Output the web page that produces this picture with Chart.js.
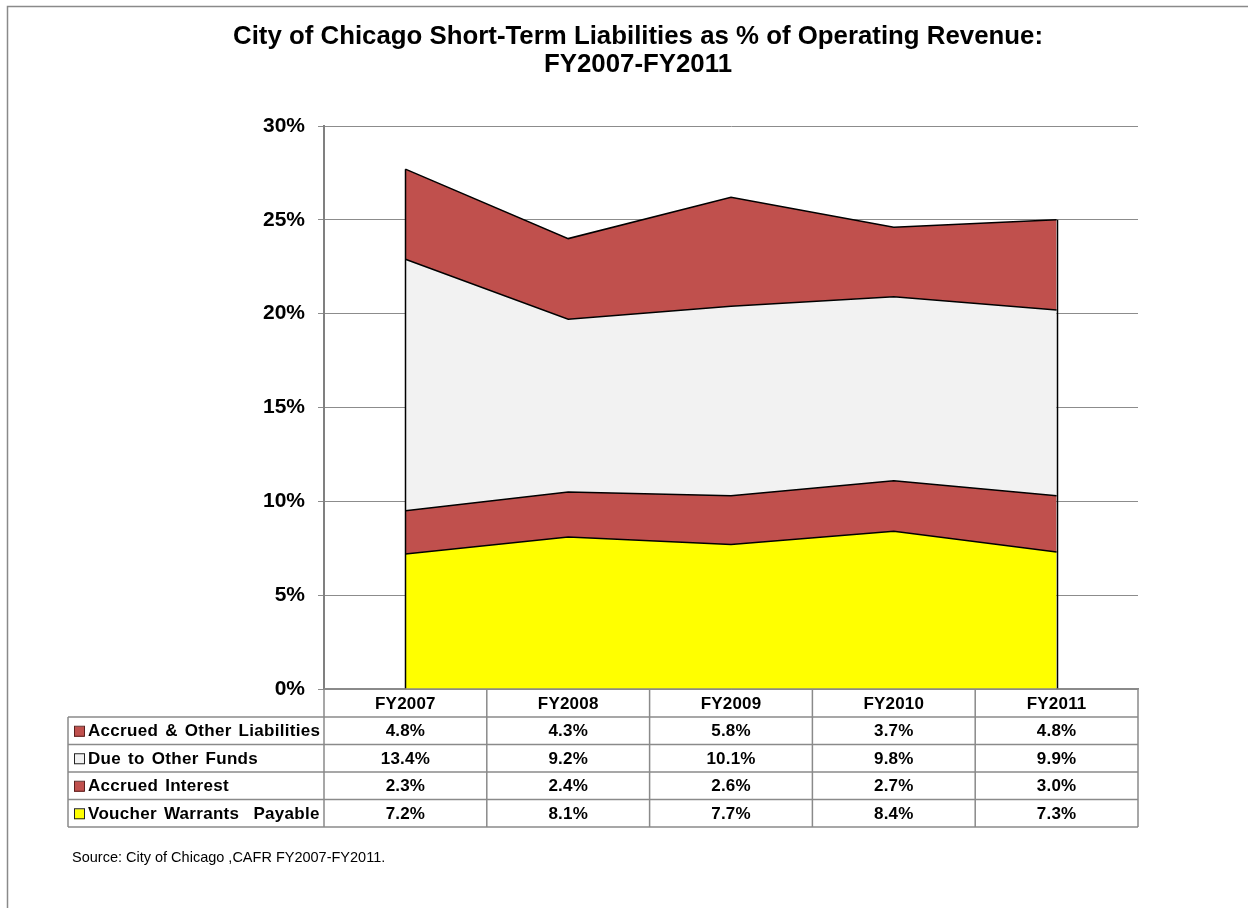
<!DOCTYPE html>
<html>
<head>
<meta charset="utf-8">
<script src="https://cdn.jsdelivr.net/npm/chart.js@4/dist/chart.umd.min.js"></script>
<style>
  body { margin: 0; background: #fff; }
  #wrap { width: 1248px; height: 908px; }
</style>
</head>
<body>
<div id="wrap"><canvas id="liabChart" width="1248" height="908"></canvas></div>
<script>
const categories = ['FY2007', 'FY2008', 'FY2009', 'FY2010', 'FY2011'];
const voucherWarrants = [7.2, 8.1, 7.7, 8.4, 7.3];
const accruedInterest = [2.3, 2.4, 2.6, 2.7, 3.0];
const dueToOtherFunds = [13.4, 9.2, 10.1, 9.8, 9.9];
const accruedOther = [4.8, 4.3, 5.8, 3.7, 4.8];
const yTicks = [0, 5, 10, 15, 20, 25, 30];

const FONT = "'Liberation Sans', Arial, sans-serif";

// rows of the table, top to bottom (reverse of the stack)
const tableRows = [
  { label: 'Accrued & Other Liabilities', values: accruedOther, fill: '#C0504D', stroke: '#5a1f1d' },
  { label: 'Due to Other Funds', values: dueToOtherFunds, fill: '#F2F2F2', stroke: '#222' },
  { label: 'Accrued Interest', values: accruedInterest, fill: '#C0504D', stroke: '#5a1f1d' },
  { label: 'Voucher Warrants  Payable', values: voucherWarrants, fill: '#FFFF00', stroke: '#222' }
];

const framePlugin = {
  id: 'frame',
  afterDraw(chart) {
    const ctx = chart.ctx;
    ctx.save();
    // page frame
    ctx.strokeStyle = '#8a8a8a';
    ctx.lineWidth = 1.5;
    ctx.beginPath();
    ctx.moveTo(7.5, 908);
    ctx.lineTo(7.5, 6.5);
    ctx.lineTo(1248, 6.5);
    ctx.stroke();

    // title, squeezed a bit like the original
    ctx.fillStyle = '#000';
    ctx.font = 'bold 25px ' + FONT;
    ctx.textBaseline = 'middle';
    ctx.textAlign = 'center';
    const line1 = 'City of Chicago Short-Term Liabilities as % of Operating Revenue:';
    const w1 = ctx.measureText(line1).width;
    const sx = 810 / w1;
    ctx.save();
    ctx.translate(638, 0);
    ctx.scale(sx, 1);
    ctx.fillText(line1, 0, 37);
    ctx.fillText('FY2007-FY2011', 0, 65);
    ctx.restore();

    // source note
    ctx.font = '14.5px ' + FONT;
    ctx.textAlign = 'left';
    ctx.fillText('Source: City of Chicago ,CAFR FY2007-FY2011.', 72, 858);
    ctx.restore();
  }
};

const edgesPlugin = {
  id: 'edges',
  afterDatasetsDraw(chart) {
    const xs = chart.scales.x, ys = chart.scales.y, ctx = chart.ctx;
    const n = categories.length;
    ctx.save();
    ctx.strokeStyle = '#000';
    ctx.lineWidth = 1.5;
    [0, n - 1].forEach(i => {
      const total = voucherWarrants[i] + accruedInterest[i] + dueToOtherFunds[i] + accruedOther[i];
      const x = Math.round(xs.getPixelForValue(i)) + 0.5;
      ctx.beginPath();
      ctx.moveTo(x, ys.getPixelForValue(0));
      ctx.lineTo(x, ys.getPixelForValue(total));
      ctx.stroke();
    });
    ctx.restore();
  }
};

const tablePlugin = {
  id: 'dataTable',
  afterDraw(chart) {
    const xs = chart.scales.x, ys = chart.scales.y, ctx = chart.ctx;
    const n = categories.length;
    const half = (xs.right - xs.left) / (2 * n);
    const top = ys.bottom;
    const headH = 28, rowH = 27.5;
    const labelLeft = 68;
    const bottom = top + headH + rowH * tableRows.length;

    ctx.save();
    ctx.strokeStyle = '#8a8a8a';
    ctx.lineWidth = 1.5;
    ctx.beginPath();
    ctx.moveTo(xs.left, top);
    ctx.lineTo(xs.right, top);
    for (let r = 0; r <= tableRows.length; r++) {
      const y = top + headH + r * rowH;
      ctx.moveTo(labelLeft, y);
      ctx.lineTo(xs.right, y);
    }
    ctx.moveTo(labelLeft, top + headH);
    ctx.lineTo(labelLeft, bottom);
    ctx.moveTo(xs.left, top);
    ctx.lineTo(xs.left, bottom);
    for (let i = 0; i < n; i++) {
      const x = xs.getPixelForValue(i) + half;
      ctx.moveTo(x, top);
      ctx.lineTo(x, bottom);
    }
    ctx.stroke();

    ctx.fillStyle = '#000';
    ctx.font = 'bold 17px ' + FONT;
    ctx.textBaseline = 'middle';
    ctx.textAlign = 'center';
    ctx.letterSpacing = '0.2px';
    categories.forEach((c, i) => {
      ctx.fillText(c, xs.getPixelForValue(i), top + headH / 2 + 1);
    });

    tableRows.forEach((row, r) => {
      const yc = top + headH + r * rowH + rowH / 2 + 1;
      // legend key
      ctx.fillStyle = row.fill;
      ctx.fillRect(74, yc - 5, 10, 10);
      ctx.strokeStyle = row.stroke;
      ctx.lineWidth = 1;
      ctx.strokeRect(74.5, yc - 5.5, 10, 10);
      ctx.fillStyle = '#000';
      ctx.textAlign = 'left';
      ctx.letterSpacing = '0.3px';
      ctx.wordSpacing = '2px';
      ctx.fillText(row.label, 88, yc);
      ctx.wordSpacing = '0px';
      ctx.letterSpacing = '0.2px';
      ctx.textAlign = 'center';
      row.values.forEach((v, i) => {
        ctx.fillText(v.toFixed(1) + '%', xs.getPixelForValue(i), yc);
      });
    });
    ctx.restore();
  }
};

const lineStyle = {
  borderColor: '#000',
  borderWidth: 1.5,
  pointRadius: 0,
  tension: 0
};

new Chart(document.getElementById('liabChart').getContext('2d'), {
  type: 'line',
  data: {
    labels: categories,
    datasets: [
      Object.assign({ label: 'Voucher Warrants Payable', data: voucherWarrants, backgroundColor: '#FFFF00', fill: 'origin' }, lineStyle),
      Object.assign({ label: 'Accrued Interest', data: accruedInterest, backgroundColor: '#C0504D', fill: '-1' }, lineStyle),
      Object.assign({ label: 'Due to Other Funds', data: dueToOtherFunds, backgroundColor: '#F2F2F2', fill: '-1' }, lineStyle),
      Object.assign({ label: 'Accrued & Other Liabilities', data: accruedOther, backgroundColor: '#C0504D', fill: '-1' }, lineStyle)
    ]
  },
  options: {
    responsive: false,
    animation: false,
    events: [],
    layout: { padding: { top: 126, right: 110, bottom: 219, left: 0 } },
    plugins: {
      legend: { display: false },
      title: { display: false },
      tooltip: { enabled: false }
    },
    scales: {
      x: {
        offset: true,
        grid: { display: false },
        ticks: { display: false },
        border: { display: true, color: '#8a8a8a', width: 1.5 },
        afterFit(scale) { scale.height = 0; }
      },
      y: {
        stacked: true,
        min: 0,
        max: 30,
        afterFit(scale) { scale.width = 324; },
        afterBuildTicks(scale) { scale.ticks = yTicks.map(v => ({ value: v })); },
        ticks: {
          padding: 13,
          color: '#000',
          font: { family: FONT, size: 21, weight: 'bold' },
          callback: v => v + '%'
        },
        grid: { color: '#8c8c8c', lineWidth: 1, tickLength: 6 },
        border: { display: true, color: '#808080', width: 2 }
      }
    }
  },
  plugins: [framePlugin, edgesPlugin, tablePlugin]
});
</script>
</body>
</html>
